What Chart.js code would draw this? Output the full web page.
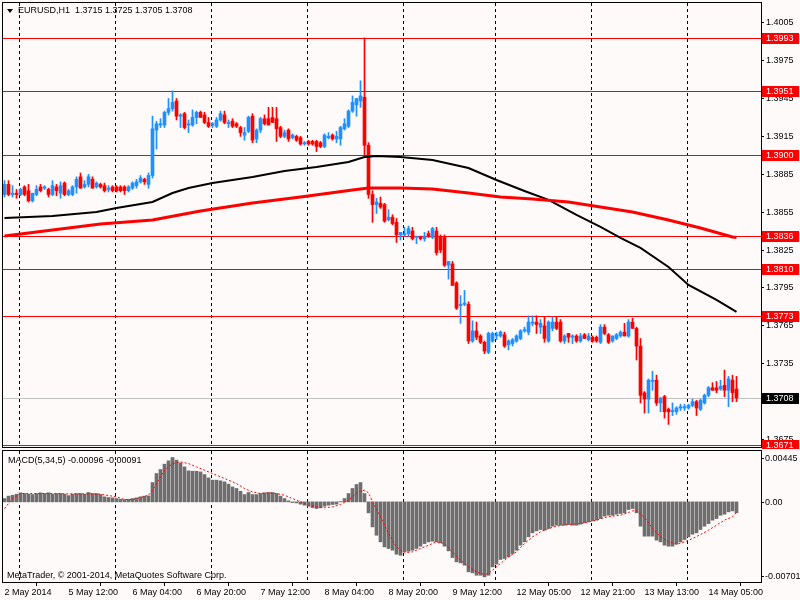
<!DOCTYPE html>
<html><head><meta charset="utf-8">
<script src="https://cdn.jsdelivr.net/npm/chart.js"></script>
<style>
html,body{margin:0;padding:0;background:#fffafa;}
#wrap{position:relative;width:800px;height:600px;overflow:hidden;background:#fffafa;font-family:'Liberation Sans',Arial,sans-serif;font-size:9px;color:#000;}
#c1{position:absolute;left:0;top:0;}
#c2{position:absolute;left:0;top:449px;}
.txt{position:absolute;white-space:pre;line-height:11px;}
#tri{position:absolute;left:7px;top:9px;width:0;height:0;border-left:3px solid transparent;border-right:3px solid transparent;border-top:4px solid #000;}
</style></head><body>
<div id="wrap">
<canvas id="c1" width="800" height="449"></canvas>
<canvas id="c2" width="800" height="151"></canvas>
<div id="tri"></div>
<div class="txt" id="title" style="left:18px;top:5px"></div>
<div class="txt" id="macdTitle" style="left:8px;top:455px"></div>
<div class="txt" id="copy" style="left:7px;top:570px">MetaTrader, © 2001-2014, MetaQuotes Software Corp.</div>
</div>
<script>
// ---------------- DATA ----------------
const symbolName = 'EURUSD,H1';
const priceOpen = [
1.3869,1.3877,1.3869,1.3870,1.3869,1.3875,1.3872,1.3864,1.3869,1.3875,
1.3874,1.3873,1.3869,1.3875,1.3870,1.3878,1.3869,1.3869,1.3875,1.3883,
1.3875,1.3877,1.3881,1.3875,1.3877,1.3876,1.3873,1.3875,1.3875,1.3875,
1.3875,1.3872,1.3874,1.3876,1.3879,1.3881,1.3877,1.3884,1.3920,1.3924,
1.3924,1.3934,1.3937,1.3943,1.3931,1.3933,1.3924,1.3924,1.3930,1.3934,
1.3932,1.3926,1.3924,1.3923,1.3928,1.3932,1.3925,1.3927,1.3925,1.3922,
1.3916,1.3919,1.3931,1.3913,1.3920,1.3929,1.3929,1.3930,1.3929,1.3922,
1.3915,1.3920,1.3914,1.3915,1.3914,1.3909,1.3911,1.3911,1.3911,1.3910,
1.3907,1.3914,1.3916,1.3913,1.3913,1.3921,1.3923,1.3935,1.3940,1.3943,
1.3946,1.3908,1.3869,1.3861,1.3862,1.3861,1.3849,1.3851,1.3847,1.3837,
1.3837,1.3838,1.3840,1.3835,1.3835,1.3834,1.3838,1.3835,1.3840,1.3835,
1.3835,1.3813,1.3814,1.3799,1.3781,1.3782,1.3782,1.3753,1.3761,1.3757,
1.3752,1.3744,1.3753,1.3757,1.3757,1.3758,1.3750,1.3751,1.3753,1.3755,
1.3761,1.3760,1.3767,1.3768,1.3764,1.3765,1.3753,1.3763,1.3768,1.3768,
1.3753,1.3759,1.3756,1.3757,1.3753,1.3758,1.3754,1.3756,1.3756,1.3752,
1.3764,1.3758,1.3753,1.3755,1.3757,1.3760,1.3757,1.3768,1.3763,1.3749,
1.3712,1.3707,1.3721,1.3722,1.3704,1.3709,1.3699,1.3697,1.3697,1.3700,
1.3700,1.3700,1.3702,1.3705,1.3699,1.3704,1.3710,1.3716,1.3716,1.3715,
1.3718,1.3714,1.3722,1.3715];
const priceHigh = [
1.3880,1.3880,1.3876,1.3873,1.3874,1.3876,1.3877,1.3870,1.3876,1.3877,
1.3876,1.3874,1.3880,1.3877,1.3879,1.3879,1.3873,1.3876,1.3883,1.3886,
1.3880,1.3885,1.3883,1.3879,1.3878,1.3878,1.3876,1.3876,1.3876,1.3876,
1.3876,1.3876,1.3879,1.3881,1.3884,1.3882,1.3886,1.3931,1.3927,1.3929,
1.3935,1.3945,1.3951,1.3945,1.3933,1.3934,1.3928,1.3936,1.3935,1.3935,
1.3934,1.3930,1.3926,1.3930,1.3935,1.3935,1.3928,1.3929,1.3926,1.3923,
1.3922,1.3931,1.3933,1.3921,1.3930,1.3932,1.3938,1.3938,1.3938,1.3923,
1.3920,1.3921,1.3917,1.3916,1.3915,1.3911,1.3912,1.3912,1.3912,1.3911,
1.3917,1.3918,1.3917,1.3919,1.3923,1.3929,1.3936,1.3947,1.3945,1.3959,
1.3993,1.3910,1.3872,1.3866,1.3867,1.3862,1.3857,1.3853,1.3850,1.3839,
1.3843,1.3844,1.3843,1.3836,1.3836,1.3839,1.3840,1.3843,1.3843,1.3837,
1.3837,1.3816,1.3816,1.3800,1.3789,1.3793,1.3784,1.3769,1.3768,1.3758,
1.3753,1.3760,1.3760,1.3760,1.3761,1.3760,1.3754,1.3755,1.3758,1.3762,
1.3764,1.3773,1.3773,1.3773,1.3770,1.3772,1.3769,1.3772,1.3772,1.3770,
1.3758,1.3759,1.3758,1.3758,1.3759,1.3759,1.3759,1.3757,1.3757,1.3766,
1.3766,1.3759,1.3757,1.3759,1.3761,1.3767,1.3770,1.3771,1.3764,1.3755,
1.3713,1.3723,1.3729,1.3726,1.3708,1.3710,1.3700,1.3704,1.3701,1.3703,
1.3703,1.3703,1.3707,1.3706,1.3707,1.3711,1.3717,1.3720,1.3721,1.3722,
1.3730,1.3725,1.3726,1.3725];
const priceLow = [
1.3867,1.3868,1.3867,1.3866,1.3868,1.3868,1.3863,1.3863,1.3868,1.3871,
1.3873,1.3867,1.3868,1.3868,1.3866,1.3868,1.3868,1.3868,1.3870,1.3874,
1.3874,1.3875,1.3874,1.3874,1.3874,1.3871,1.3871,1.3871,1.3871,1.3871,
1.3869,1.3871,1.3873,1.3874,1.3878,1.3877,1.3874,1.3882,1.3905,1.3922,
1.3922,1.3932,1.3935,1.3928,1.3922,1.3921,1.3918,1.3923,1.3925,1.3930,
1.3925,1.3922,1.3922,1.3922,1.3927,1.3925,1.3922,1.3922,1.3922,1.3915,
1.3912,1.3918,1.3910,1.3910,1.3918,1.3924,1.3924,1.3926,1.3911,1.3914,
1.3914,1.3911,1.3913,1.3911,1.3908,1.3908,1.3908,1.3908,1.3903,1.3906,
1.3906,1.3913,1.3912,1.3910,1.3908,1.3920,1.3922,1.3934,1.3931,1.3938,
1.3900,1.3866,1.3847,1.3854,1.3858,1.3847,1.3848,1.3845,1.3831,1.3833,
1.3836,1.3836,1.3833,1.3830,1.3833,1.3832,1.3835,1.3834,1.3821,1.3823,
1.3812,1.3802,1.3797,1.3778,1.3767,1.3781,1.3751,1.3752,1.3754,1.3751,
1.3743,1.3743,1.3752,1.3754,1.3756,1.3748,1.3746,1.3749,1.3752,1.3754,
1.3760,1.3758,1.3765,1.3759,1.3759,1.3752,1.3752,1.3761,1.3762,1.3752,
1.3751,1.3752,1.3751,1.3752,1.3752,1.3755,1.3753,1.3752,1.3752,1.3751,
1.3758,1.3751,1.3752,1.3754,1.3756,1.3757,1.3756,1.3763,1.3738,1.3704,
1.3696,1.3696,1.3714,1.3702,1.3697,1.3692,1.3687,1.3694,1.3695,1.3698,
1.3698,1.3699,1.3701,1.3694,1.3698,1.3703,1.3709,1.3714,1.3712,1.3714,
1.3709,1.3701,1.3705,1.3705];
const priceClose = [
1.3877,1.3869,1.3870,1.3869,1.3873,1.3869,1.3864,1.3870,1.3873,1.3872,
1.3875,1.3869,1.3876,1.3872,1.3876,1.3869,1.3872,1.3875,1.3881,1.3874,
1.3877,1.3883,1.3874,1.3878,1.3875,1.3872,1.3874,1.3872,1.3872,1.3872,
1.3872,1.3875,1.3878,1.3879,1.3882,1.3879,1.3884,1.3921,1.3925,1.3925,
1.3934,1.3937,1.3942,1.3931,1.3932,1.3922,1.3925,1.3930,1.3934,1.3930,
1.3926,1.3923,1.3925,1.3928,1.3933,1.3926,1.3926,1.3923,1.3923,1.3918,
1.3918,1.3930,1.3912,1.3920,1.3929,1.3925,1.3924,1.3926,1.3921,1.3915,
1.3918,1.3913,1.3916,1.3912,1.3909,1.3910,1.3909,1.3909,1.3907,1.3907,
1.3916,1.3915,1.3913,1.3915,1.3922,1.3925,1.3935,1.3942,1.3945,1.3947,
1.3908,1.3869,1.3861,1.3863,1.3859,1.3848,1.3851,1.3846,1.3837,1.3839,
1.3838,1.3842,1.3834,1.3836,1.3834,1.3836,1.3836,1.3842,1.3823,1.3825,
1.3813,1.3816,1.3797,1.3779,1.3782,1.3783,1.3753,1.3761,1.3756,1.3752,
1.3745,1.3759,1.3759,1.3758,1.3760,1.3749,1.3753,1.3754,1.3757,1.3761,
1.3762,1.3768,1.3768,1.3766,1.3767,1.3755,1.3768,1.3768,1.3763,1.3753,
1.3757,1.3756,1.3757,1.3753,1.3757,1.3755,1.3757,1.3753,1.3753,1.3764,
1.3759,1.3752,1.3757,1.3758,1.3760,1.3757,1.3768,1.3763,1.3749,1.3710,
1.3707,1.3722,1.3722,1.3704,1.3708,1.3697,1.3697,1.3698,1.3700,1.3701,
1.3701,1.3702,1.3705,1.3700,1.3706,1.3710,1.3716,1.3714,1.3714,1.3717,
1.3714,1.3723,1.3712,1.3708];

// moving averages (read at sample bars)
const maBlackBars = [0,12,23,28,37,42,46,52,62,70,78,86,90,93,99,107,116,123,130,136,143,149,154,159,166,171,178,183];
const maBlackValues = [1.38504,1.38520,1.38552,1.38583,1.38631,1.38702,1.38742,1.38781,1.38829,1.38876,1.38908,1.38947,1.38987,1.38995,1.38987,1.38963,1.38900,1.38805,1.38718,1.38647,1.38528,1.38433,1.38346,1.38267,1.38116,1.37974,1.37855,1.37760];
const maRedBars = [0,12,24,37,49,62,74,87,91,99,107,116,124,132,141,149,157,166,174,182,183];
const maRedValues = [1.38362,1.38409,1.38457,1.38488,1.38559,1.38623,1.38670,1.38726,1.38742,1.38742,1.38734,1.38702,1.38670,1.38654,1.38631,1.38591,1.38552,1.38488,1.38425,1.38354,1.38350];

// horizontal levels
const levelValues = [1.3993,1.3951,1.3900,1.3836,1.3810,1.3773,1.3671];
const priceTicks = [1.4005,1.3975,1.3945,1.3915,1.3885,1.3855,1.3825,1.3795,1.3765,1.3735,1.3705,1.3675];

// MACD(5,34,5)
const macdHist = [
0.00029,0.00050,0.00058,0.00067,0.00079,0.00073,0.00067,0.00064,0.00073,0.00079,
0.00073,0.00079,0.00067,0.00073,0.00073,0.00067,0.00055,0.00067,0.00073,0.00073,
0.00067,0.00082,0.00073,0.00073,0.00064,0.00044,0.00038,0.00035,0.00029,0.00023,
0.00020,0.00023,0.00029,0.00035,0.00044,0.00050,0.00052,0.00169,0.00248,0.00283,
0.00330,0.00359,0.00388,0.00365,0.00341,0.00306,0.00271,0.00268,0.00268,0.00262,
0.00239,0.00210,0.00190,0.00190,0.00184,0.00175,0.00155,0.00131,0.00117,0.00093,
0.00064,0.00082,0.00064,0.00064,0.00073,0.00079,0.00082,0.00082,0.00073,0.00050,
0.00029,0.00009,-0.00006,-0.00009,-0.00020,-0.00029,-0.00038,-0.00050,-0.00058,-0.00052,
-0.00038,-0.00029,-0.00023,-0.00020,0.00003,0.00029,0.00073,0.00117,0.00152,0.00169,
0.00073,-0.00096,-0.00219,-0.00292,-0.00350,-0.00394,-0.00408,-0.00423,-0.00458,-0.00467,
-0.00437,-0.00432,-0.00423,-0.00408,-0.00388,-0.00365,-0.00350,-0.00344,-0.00350,-0.00359,
-0.00388,-0.00429,-0.00487,-0.00525,-0.00534,-0.00554,-0.00612,-0.00621,-0.00642,-0.00642,
-0.00656,-0.00642,-0.00569,-0.00545,-0.00504,-0.00496,-0.00481,-0.00452,-0.00423,-0.00379,
-0.00350,-0.00306,-0.00271,-0.00254,-0.00242,-0.00248,-0.00233,-0.00213,-0.00204,-0.00204,
-0.00204,-0.00198,-0.00204,-0.00204,-0.00195,-0.00184,-0.00175,-0.00166,-0.00160,-0.00146,
-0.00125,-0.00117,-0.00117,-0.00108,-0.00102,-0.00096,-0.00067,-0.00058,-0.00096,-0.00213,
-0.00300,-0.00300,-0.00300,-0.00335,-0.00350,-0.00379,-0.00388,-0.00388,-0.00370,-0.00350,
-0.00330,-0.00306,-0.00283,-0.00271,-0.00242,-0.00213,-0.00190,-0.00160,-0.00146,-0.00117,
-0.00108,-0.00087,-0.00079,-0.00096];
const signalBars = [0,1,2,4,8,12,16,20,24,28,30,32,34,36,37,38,39,40,42,44,46,48,50,52,54,56,58,60,62,64,66,68,70,72,74,76,78,80,82,84,86,88,89,90,91,92,94,96,98,100,102,104,106,108,110,112,114,116,118,120,121,122,124,126,128,130,132,134,136,138,140,142,144,146,148,150,152,154,156,157,158,160,162,164,166,168,170,172,174,176,178,180,182,183];
const signalValues = [-0.00058,-0.00015,0.00029,0.00073,0.00073,0.00073,0.00070,0.00070,0.00067,0.00044,0.00020,0.00020,0.00038,0.00058,0.00102,0.00160,0.00219,0.00277,0.00335,0.00350,0.00335,0.00306,0.00277,0.00248,0.00219,0.00190,0.00160,0.00117,0.00087,0.00073,0.00079,0.00073,0.00058,0.00029,0.00000,-0.00029,-0.00044,-0.00052,-0.00044,-0.00023,0.00015,0.00073,0.00096,0.00102,0.00079,0.00000,-0.00131,-0.00277,-0.00394,-0.00446,-0.00437,-0.00408,-0.00379,-0.00350,-0.00365,-0.00437,-0.00510,-0.00569,-0.00612,-0.00636,-0.00627,-0.00598,-0.00539,-0.00481,-0.00437,-0.00365,-0.00306,-0.00262,-0.00233,-0.00213,-0.00201,-0.00195,-0.00190,-0.00175,-0.00160,-0.00137,-0.00125,-0.00117,-0.00093,-0.00079,-0.00079,-0.00137,-0.00233,-0.00306,-0.00350,-0.00370,-0.00350,-0.00321,-0.00286,-0.00248,-0.00204,-0.00160,-0.00131,-0.00091];
const macdAxisValues = [0.00445, 0.00, -0.00701];
const macdAxisLabels = ['0.00445', '0.00', '-0.00701'];

// time axis
const xTickBars = [0,16,32,48,64,80,96,112,128,144,160,176];
const xTickLabels = ['2 May 2014','5 May 12:00','6 May 04:00','6 May 20:00','7 May 12:00','8 May 04:00','8 May 20:00','9 May 12:00','12 May 05:00','12 May 21:00','13 May 13:00','14 May 05:00'];
const gridBars = [4,28,52,76,100,123,147,171];

// ---------------- STYLE / BUILD ----------------
const BULL = '#1E90FF', BEAR = '#FF0000';
const FONT = "'Liberation Sans', Arial, Helvetica, sans-serif";
Chart.defaults.font.family = FONT;
Chart.defaults.font.size = 9;
Chart.defaults.color = '#000';
const X_MIN = -0.375, X_MAX = 189.125;
const Y_MIN = 1.36691, Y_MAX = 1.40206;

const idx = priceOpen.map((_, i) => i);
const lastI = idx.length - 1;
const bodyData = idx.map(i => ({x: i, y: [Math.min(priceOpen[i], priceClose[i]), Math.max(priceOpen[i], priceClose[i])]}));
const wickData = idx.map(i => ({x: i, y: [priceLow[i], priceHigh[i]]}));
const candleColors = idx.map(i => priceClose[i] >= priceOpen[i] ? BULL : BEAR);
const lastPrice = priceClose[lastI];

document.getElementById('title').textContent =
  symbolName + '  ' + [priceOpen[lastI], priceHigh[lastI], priceLow[lastI], priceClose[lastI]].map(v => v.toFixed(4)).join(' ');
document.getElementById('macdTitle').textContent =
  'MACD(5,34,5) ' + macdHist[lastI].toFixed(5) + ' ' + signalValues[signalValues.length - 1].toFixed(5);

function drawVGrid(chart) {
  const {ctx, chartArea: a, scales: {x}} = chart;
  ctx.save();
  ctx.strokeStyle = '#000'; ctx.lineWidth = 1; ctx.setLineDash([3, 3]);
  ctx.beginPath();
  gridBars.forEach(b => {
    const px = Math.floor(x.getPixelForValue(b)) - 0.5;
    ctx.moveTo(px, a.top); ctx.lineTo(px, a.bottom);
  });
  ctx.stroke();
  ctx.restore();
}
function drawFrame(chart) {
  const {ctx, chartArea: a} = chart;
  ctx.save();
  ctx.strokeStyle = '#000'; ctx.lineWidth = 1;
  ctx.strokeRect(a.left - 0.5, a.top - 0.5, a.right - a.left + 1, a.bottom - a.top + 1);
  ctx.restore();
}
function hLine(ctx, a, py, color) {
  ctx.strokeStyle = color;
  ctx.beginPath(); ctx.moveTo(a.left, py); ctx.lineTo(a.right, py); ctx.stroke();
}
function tagBox(ctx, a, py, text, fill) {
  ctx.fillStyle = fill;
  ctx.fillRect(a.right + 1, Math.round(py) - 5, 37, 11);
  ctx.fillStyle = '#fff';
  ctx.font = '9px ' + FONT;
  ctx.textAlign = 'left'; ctx.textBaseline = 'middle';
  ctx.fillText(text, a.right + 5, Math.round(py) + 0.5);
}

const mainPlugin = {
  id: 'mainDecor',
  beforeDatasetsDraw(chart) {
    drawVGrid(chart);
    const {ctx, chartArea: a, scales: {y}} = chart;
    ctx.save(); ctx.lineWidth = 1;
    hLine(ctx, a, Math.round(y.getPixelForValue(lastPrice)) + 0.5, '#C0C0C0');
    levelValues.forEach(v => hLine(ctx, a, Math.round(y.getPixelForValue(v)) + 0.5, '#FF0000'));
    ctx.restore();
  },
  afterDraw(chart) {
    drawFrame(chart);
    const {ctx, chartArea: a, scales: {y}} = chart;
    ctx.save();
    levelValues.forEach(v => tagBox(ctx, a, y.getPixelForValue(v), v.toFixed(4), '#FF0000'));
    tagBox(ctx, a, y.getPixelForValue(lastPrice), lastPrice.toFixed(4), '#000000');
    ctx.restore();
  }
};

const macdPlugin = {
  id: 'macdDecor',
  beforeDatasetsDraw(chart) { drawVGrid(chart); },
  afterDraw(chart) {
    drawFrame(chart);
    const {ctx, chartArea: a, scales: {y}} = chart;
    ctx.save();
    ctx.font = '9px ' + FONT; ctx.fillStyle = '#000'; ctx.strokeStyle = '#000';
    ctx.textAlign = 'left'; ctx.textBaseline = 'middle';
    macdAxisValues.forEach((v, k) => {
      let py = y.getPixelForValue(v);
      py = Math.min(Math.max(py, a.top + 7), a.bottom - 6);
      py = Math.round(py);
      ctx.beginPath(); ctx.moveTo(a.right, py + 0.5); ctx.lineTo(a.right + 3, py + 0.5); ctx.stroke();
      ctx.fillText(macdAxisLabels[k], a.right + 4, py + 0.5);
    });
    ctx.restore();
  }
};

new Chart(document.getElementById('c1'), {
  type: 'bar',
  data: {
    datasets: [
      {type: 'line', data: maRedBars.map((b, k) => ({x: b, y: maRedValues[k]})), borderColor: '#FF0000', borderWidth: 3, pointRadius: 0, tension: 0, order: 0},
      {type: 'line', data: maBlackBars.map((b, k) => ({x: b, y: maBlackValues[k]})), borderColor: '#000000', borderWidth: 2, pointRadius: 0, tension: 0, order: 0},
      {data: bodyData, backgroundColor: candleColors, barThickness: 3, minBarLength: 1, grouped: false, borderWidth: 0, order: 1},
      {data: wickData, backgroundColor: candleColors, barThickness: 1, grouped: false, borderWidth: 0, order: 2}
    ]
  },
  options: {
    responsive: false, animation: false, devicePixelRatio: 1, events: [],
    layout: {padding: {left: 3, top: 3, right: 0, bottom: 2}},
    plugins: {legend: {display: false}, tooltip: {enabled: false}},
    scales: {
      x: {type: 'linear', min: X_MIN, max: X_MAX, display: false, offset: false},
      y: {
        type: 'linear', position: 'right', min: Y_MIN, max: Y_MAX,
        afterBuildTicks: ax => { ax.ticks = priceTicks.map(v => ({value: v})); },
        afterFit: ax => { ax.width = 39; ax.paddingTop = 0; ax.paddingBottom = 0; },
        grid: {drawOnChartArea: false, drawTicks: true, tickLength: 3, color: '#000'},
        border: {display: false},
        ticks: {padding: 2, color: '#000', font: {size: 9, family: FONT}, callback: v => Number(v).toFixed(4)}
      }
    }
  },
  plugins: [mainPlugin]
});

new Chart(document.getElementById('c2'), {
  type: 'bar',
  data: {
    datasets: [
      {type: 'line', data: signalBars.map((b, k) => ({x: b, y: signalValues[k]})), borderColor: '#FF0000', borderWidth: 1, borderDash: [2, 2], pointRadius: 0, tension: 0, order: 0},
      {data: idx.map(i => ({x: i, y: macdHist[i]})), backgroundColor: '#6E6E6E', barThickness: 3, grouped: false, borderWidth: 0, order: 1}
    ]
  },
  options: {
    responsive: false, animation: false, devicePixelRatio: 1, events: [],
    layout: {padding: {left: 3, top: 2, right: 39, bottom: 0}},
    plugins: {legend: {display: false}, tooltip: {enabled: false}},
    scales: {
      x: {
        type: 'linear', min: X_MIN, max: X_MAX, offset: false,
        afterBuildTicks: ax => { ax.ticks = xTickBars.map(v => ({value: v})); },
        afterFit: ax => { ax.height = 18; ax.paddingLeft = 0; ax.paddingRight = 0; },
        grid: {drawOnChartArea: false, drawTicks: true, tickLength: 4, color: '#000'},
        border: {display: false},
        ticks: {align: 'start', autoSkip: false, maxRotation: 0, minRotation: 0, padding: 1, color: '#000',
                font: {size: 9, family: FONT}, callback: (v, i) => xTickLabels[i]}
      },
      y: {type: 'linear', min: -0.00701, max: 0.00445, display: false}
    }
  },
  plugins: [macdPlugin]
});
</script>
</body></html>
